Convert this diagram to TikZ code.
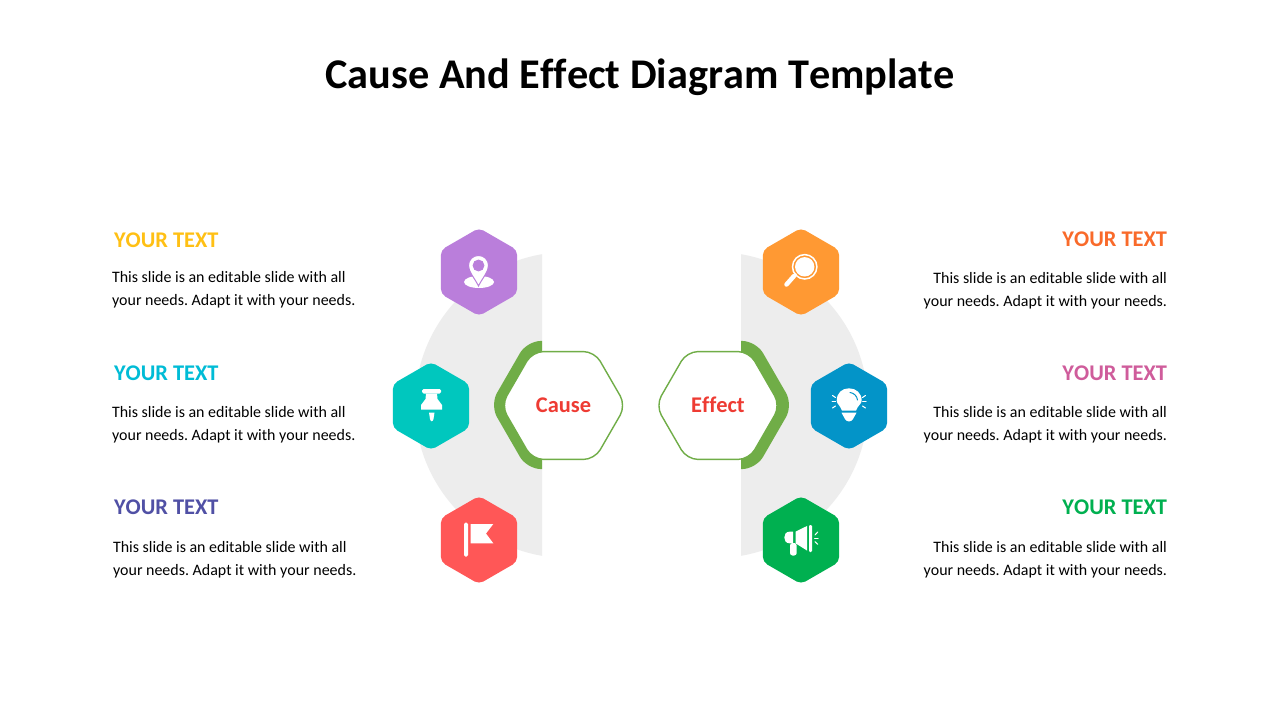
\documentclass[tikz,border=0pt]{standalone}
\usepackage{fontspec}
\setmainfont[Ligatures=NoCommon,Kerning=Off]{Carlito}
\frenchspacing
\usetikzlibrary{positioning}
\usetikzlibrary{shapes.geometric}
\definecolor{leafgreen}{HTML}{70AD47}
\definecolor{paleback}{HTML}{EDEDED}
\definecolor{redword}{HTML}{EE3B33}
\definecolor{pinfill}{RGB}{186,126,219}
\definecolor{tackfill}{RGB}{0,199,190}
\definecolor{flagfill}{RGB}{255,87,87}
\definecolor{lensfill}{RGB}{255,153,51}
\definecolor{bulbfill}{RGB}{3,148,200}
\definecolor{hornfill}{RGB}{0,176,80}
\definecolor{headyellow}{RGB}{255,192,20}
\definecolor{headcyan}{RGB}{0,188,214}
\definecolor{headindigo}{RGB}{80,80,165}
\definecolor{headorange}{RGB}{249,106,42}
\definecolor{headpink}{RGB}{207,92,155}
\tikzset{x=1pt,y=-1pt,
every node/.style={inner sep=0pt,outer sep=0pt},
iconhex/.style={ % Small coloured hexagons round the half discs
regular polygon,regular polygon sides=6,regular polygon rotate=30,
minimum size=88pt,rounded corners=5pt},
corehex/.style={ % White hexagon with the word in it
regular polygon,regular polygon sides=6,
minimum size=124.5pt,rounded corners=11pt,
draw=leafgreen,line width=1.4pt,fill=white,
text=redword,text height=14pt,text depth=0pt,
font=\bfseries\fontsize{22.4}{24}\selectfont},
backhex/.style={ % Thick green part behind the white hexagon
regular polygon,regular polygon sides=6,
minimum size=148pt,rounded corners=14pt,fill=leafgreen},
headleft/.style={anchor=west,font=\bfseries\fontsize{22.4}{24}\selectfont},
headright/.style={anchor=east,font=\bfseries\fontsize{22.4}{24}\selectfont},
bodyleft/.style={anchor=west,align=left,font=\fontsize{15.95}{23}\selectfont},
bodyright/.style={anchor=east,align=right,font=\fontsize{15.95}{23}\selectfont},
ray/.style={draw=white,line width=1pt,line cap=round}}
\newcommand{\bodytext}{This slide is an editable slide with all\\your needs. Adapt it with your needs.}
\begin{document}
\begin{tikzpicture}[on grid]
  \useasboundingbox (0,0) rectangle (1280,720);
  \fill[white] (0,0) rectangle (1280,720);
  \node (title) [font=\bfseries\fontsize{42.3}{50}\selectfont] at (640,77) {Cause And Effect Diagram Template};
  % half discs
  \begin{scope}
    \clip (400,240) rectangle (542,570);
    \fill[paleback] (568,405) circle (153);
  \end{scope}
  \begin{scope}
    \clip (741,240) rectangle (880,570);
    \fill[paleback] (715,405) circle (153);
  \end{scope}
  % green backs
  \begin{scope}
    \clip (480,330) rectangle (542,480);
    \node (causeback) [backhex] at (564,405) {};
  \end{scope}
  \begin{scope}
    \clip (741,330) rectangle (800,480);
    \node (effectback) [backhex] at (719,405) {};
  \end{scope}
  \node (cause)  [corehex] at (563.5,405.5) {Cause};
  \node (effect) [corehex] at (718,405.5) {Effect};
  % icon hexagons
  \node (pinhex)   [iconhex,fill=pinfill]  at (479,272) {};
  \node (tackhex)  [iconhex,fill=tackfill] at (431,406) {};
  \node (flaghex)  [iconhex,fill=flagfill] at (479,540) {};
  \node (lenshex)  [iconhex,fill=lensfill] at (801,272) {};
  \node (bulbhex)  [iconhex,fill=bulbfill] at (849,406) {};
  \node (hornhex)  [iconhex,fill=hornfill] at (801,540) {};
  % pin
  \fill[white] (479,282) ellipse (15 and 6);
  \fill[white,draw=pinfill,line width=1pt,even odd rule]
    (478.5,286) .. controls (474,277) and (468.5,272) .. (468.5,265.5)
    .. controls (468.5,259.5) and (473,255.5) .. (478.5,255.5)
    .. controls (484,255.5) and (488.5,259.5) .. (488.5,265.5)
    .. controls (488.5,272) and (483,277) .. (478.5,286) -- cycle
    (478.5,265.5) circle (5.4);
  % tack
  \fill[white,rounded corners=1.5pt] (422,389) rectangle (441,393.5);
  \fill[white] (426,393.5) -- (437,393.5) -- (437.5,399) -- (442,405) -- (442,409.5) -- (421,409.5) -- (421,405) -- (425.5,399) -- cycle;
  \fill[white] (429,412.5) -- (434.5,412.5) -- (433.5,419) .. controls (433,422) and (430.5,422) .. (430,419) -- cycle;
  % flag
  \fill[white,rounded corners=1.5pt] (464,522.7) rectangle (468,556.7);
  \fill[white] (470.7,524) -- (493.3,524) -- (486,533.5) -- (493.3,543.3) -- (470.7,543.3) -- cycle;
  % lens
  \draw[white,line width=1.5pt] (804.7,266.8) circle (12.2);
  \fill[white] (804.7,266.8) circle (9.7);
  \draw[white,line width=4.5pt,line cap=round] (794,276) -- (786.5,284.5);
  \draw[white,line width=2.5pt] (796,273.5) -- (793,277);
  % bulb
  \fill[white] (842,410.7) .. controls (840,405) and (836.7,404) .. (836.7,400.5)
    .. controls (836.7,393) and (842,388.3) .. (849,388.3)
    .. controls (856,388.3) and (861.7,393) .. (861.7,400.5)
    .. controls (861.7,404) and (858,405) .. (856,410.7) -- cycle;
  \fill[white] (841.5,412.7) -- (856.5,412.7) -- (853,419) .. controls (851,422.3) and (847,422.3) .. (845,419) -- cycle;
  \draw[bulbfill,line width=1pt,line cap=round] (850,392.5) .. controls (854,393) and (857,396) .. (857.5,400);
  \draw[ray] (832.5,395.5) -- (835.5,397.5);
  \draw[ray] (832,401) -- (835.5,401);
  \draw[ray] (832.5,408) -- (835.5,406);
  \draw[ray] (865.5,395.5) -- (862.5,397.5);
  \draw[ray] (866,401) -- (862.5,401);
  \draw[ray] (865.5,408) -- (862.5,406);
  % horn
  \fill[white] (793,531.7) -- (789.5,531.7) .. controls (782.5,531.7) and (782.5,543.3) .. (789.5,543.3) -- (793,543.3) -- cycle;
  \fill[white] (795.5,531.7) -- (807,526) -- (807,550.5) -- (795.5,543.3) -- cycle;
  \fill[white,rounded corners=1.2pt] (809,525) rectangle (812,552);
  \fill[white,rounded corners=2.5pt] (790,543) rectangle (796.7,555.5);
  \draw[ray] (815,535) -- (817.7,532);
  \draw[ray] (814.5,538.3) -- (818,538.3);
  \draw[ray] (815,541.7) -- (817.7,544.3);
  % left texts
  \node (headone)   [headleft,text=headyellow] at (114,240) {YOUR TEXT};
  \node (bodyone)   [bodyleft,below=49.5pt of headone.west,anchor=west,xshift=-2pt] {\bodytext};
  \node (headtwo)   [headleft,text=headcyan] at (114,373) {YOUR TEXT};
  \node (bodytwo)   [bodyleft,below=51.5pt of headtwo.west,anchor=west,xshift=-2pt] {\bodytext};
  \node (headthree) [headleft,text=headindigo] at (114,507) {YOUR TEXT};
  \node (bodythree) [bodyleft,below=52.5pt of headthree.west,anchor=west,xshift=-1pt] {\bodytext};
  % right texts
  \node (headfour)  [headright,text=headorange] at (1167,239) {YOUR TEXT};
  \node (bodyfour)  [bodyright,below=51.5pt of headfour.east,anchor=east] {\bodytext};
  \node (headfive)  [headright,text=headpink] at (1167,373) {YOUR TEXT};
  \node (bodyfive)  [bodyright,below=51.5pt of headfive.east,anchor=east] {\bodytext};
  \node (headsix)   [headright,text=hornfill] at (1167,507) {YOUR TEXT};
  \node (bodysix)   [bodyright,below=52.5pt of headsix.east,anchor=east] {\bodytext};
\end{tikzpicture}
\end{document}
